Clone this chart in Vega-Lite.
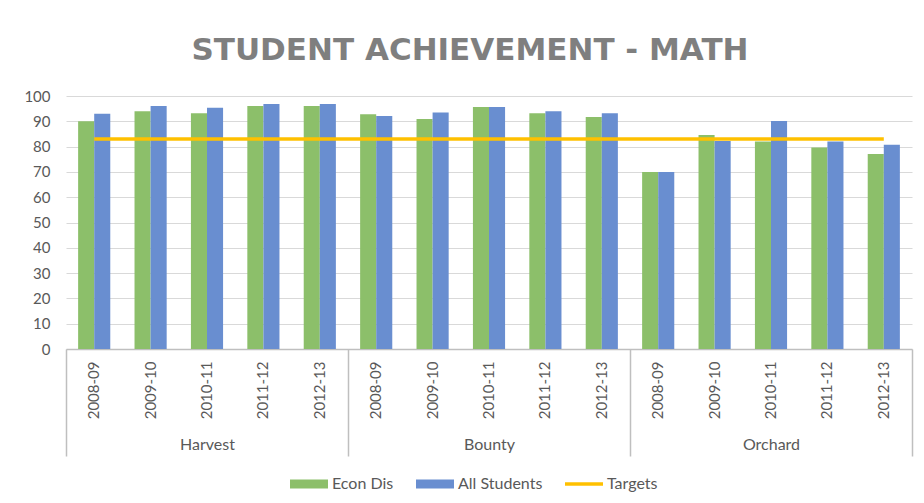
{
  "$schema": "https://vega.github.io/schema/vega-lite/v6.json",
  "width": 846,
  "height": 253,
  "autosize": "none",
  "padding": {"left": 66, "top": 96, "right": 12, "bottom": 154},
  "background": "white",
  "config": {"view": {"stroke": null}, "font": "Lato"},
  "title": {
    "text": "STUDENT ACHIEVEMENT - MATH",
    "font": "DejaVu Sans",
    "fontSize": 31,
    "fontWeight": "bold",
    "color": "#7f7f7f",
    "anchor": "middle",
    "offset": 22,
    "dx": -19
  },
  "data": {
    "values": [
      {"school": "Harvest", "cat": "Harvest|2008-09", "series": "Econ Dis", "value": 90},
      {"school": "Harvest", "cat": "Harvest|2008-09", "series": "All Students", "value": 93},
      {"school": "Harvest", "cat": "Harvest|2008-09", "series": "Targets", "value": 83},
      {"school": "Harvest", "cat": "Harvest|2009-10", "series": "Econ Dis", "value": 94},
      {"school": "Harvest", "cat": "Harvest|2009-10", "series": "All Students", "value": 96},
      {"school": "Harvest", "cat": "Harvest|2009-10", "series": "Targets", "value": 83},
      {"school": "Harvest", "cat": "Harvest|2010-11", "series": "Econ Dis", "value": 93.2},
      {"school": "Harvest", "cat": "Harvest|2010-11", "series": "All Students", "value": 95.4},
      {"school": "Harvest", "cat": "Harvest|2010-11", "series": "Targets", "value": 83},
      {"school": "Harvest", "cat": "Harvest|2011-12", "series": "Econ Dis", "value": 96},
      {"school": "Harvest", "cat": "Harvest|2011-12", "series": "All Students", "value": 96.8},
      {"school": "Harvest", "cat": "Harvest|2011-12", "series": "Targets", "value": 83},
      {"school": "Harvest", "cat": "Harvest|2012-13", "series": "Econ Dis", "value": 96},
      {"school": "Harvest", "cat": "Harvest|2012-13", "series": "All Students", "value": 96.8},
      {"school": "Harvest", "cat": "Harvest|2012-13", "series": "Targets", "value": 83},
      {"school": "Bounty", "cat": "Bounty|2008-09", "series": "Econ Dis", "value": 92.8},
      {"school": "Bounty", "cat": "Bounty|2008-09", "series": "All Students", "value": 92.1},
      {"school": "Bounty", "cat": "Bounty|2008-09", "series": "Targets", "value": 83},
      {"school": "Bounty", "cat": "Bounty|2009-10", "series": "Econ Dis", "value": 90.9},
      {"school": "Bounty", "cat": "Bounty|2009-10", "series": "All Students", "value": 93.5},
      {"school": "Bounty", "cat": "Bounty|2009-10", "series": "Targets", "value": 83},
      {"school": "Bounty", "cat": "Bounty|2010-11", "series": "Econ Dis", "value": 95.7},
      {"school": "Bounty", "cat": "Bounty|2010-11", "series": "All Students", "value": 95.7},
      {"school": "Bounty", "cat": "Bounty|2010-11", "series": "Targets", "value": 83},
      {"school": "Bounty", "cat": "Bounty|2011-12", "series": "Econ Dis", "value": 93.2},
      {"school": "Bounty", "cat": "Bounty|2011-12", "series": "All Students", "value": 94},
      {"school": "Bounty", "cat": "Bounty|2011-12", "series": "Targets", "value": 83},
      {"school": "Bounty", "cat": "Bounty|2012-13", "series": "Econ Dis", "value": 91.7},
      {"school": "Bounty", "cat": "Bounty|2012-13", "series": "All Students", "value": 93.2},
      {"school": "Bounty", "cat": "Bounty|2012-13", "series": "Targets", "value": 83},
      {"school": "Orchard", "cat": "Orchard|2008-09", "series": "Econ Dis", "value": 70},
      {"school": "Orchard", "cat": "Orchard|2008-09", "series": "All Students", "value": 70},
      {"school": "Orchard", "cat": "Orchard|2008-09", "series": "Targets", "value": 83},
      {"school": "Orchard", "cat": "Orchard|2009-10", "series": "Econ Dis", "value": 84.6},
      {"school": "Orchard", "cat": "Orchard|2009-10", "series": "All Students", "value": 82.2},
      {"school": "Orchard", "cat": "Orchard|2009-10", "series": "Targets", "value": 83},
      {"school": "Orchard", "cat": "Orchard|2010-11", "series": "Econ Dis", "value": 82},
      {"school": "Orchard", "cat": "Orchard|2010-11", "series": "All Students", "value": 90.1},
      {"school": "Orchard", "cat": "Orchard|2010-11", "series": "Targets", "value": 83},
      {"school": "Orchard", "cat": "Orchard|2011-12", "series": "Econ Dis", "value": 79.6},
      {"school": "Orchard", "cat": "Orchard|2011-12", "series": "All Students", "value": 82},
      {"school": "Orchard", "cat": "Orchard|2011-12", "series": "Targets", "value": 83},
      {"school": "Orchard", "cat": "Orchard|2012-13", "series": "Econ Dis", "value": 77.1},
      {"school": "Orchard", "cat": "Orchard|2012-13", "series": "All Students", "value": 80.7},
      {"school": "Orchard", "cat": "Orchard|2012-13", "series": "Targets", "value": 83}
    ]
  },
  "layer": [
    {
      "layer": [
        {
          "transform": [{"filter": "datum.series !== 'Targets'"}],
          "mark": {"type": "bar"},
          "encoding": {
            "x": {
              "field": "cat",
              "type": "nominal",
              "scale": {
                "domain": ["Harvest|2008-09", "Harvest|2009-10", "Harvest|2010-11", "Harvest|2011-12", "Harvest|2012-13",
                           "Bounty|2008-09", "Bounty|2009-10", "Bounty|2010-11", "Bounty|2011-12", "Bounty|2012-13",
                           "Orchard|2008-09", "Orchard|2009-10", "Orchard|2010-11", "Orchard|2011-12", "Orchard|2012-13"],
                "paddingInner": 0.43,
                "paddingOuter": 0.215
              },
              "axis": {
                "title": null,
                "orient": "bottom",
                "labelAngle": -90,
                "labelAlign": "right",
                "labelBaseline": "middle",
                "labelExpr": "split(datum.value, '|')[1]",
                "ticks": false,
                "domain": true,
                "domainColor": "#bfbfbf",
                "domainWidth": 1.5,
                "labelPadding": 12,
                "labelFont": "Lato",
                "labelFontSize": 15,
                "labelColor": "#595959",
                "grid": false
              }
            },
            "xOffset": {
              "field": "series",
              "type": "nominal",
              "sort": ["Econ Dis", "All Students"],
              "scale": {"paddingInner": 0, "paddingOuter": 0}
            },
            "y": {
              "field": "value",
              "type": "quantitative",
              "scale": {"domain": [0, 100]},
              "axis": {
                "title": null,
                "values": [0, 10, 20, 30, 40, 50, 60, 70, 80, 90, 100],
                "labelOverlap": false,
                "domain": false,
                "ticks": false,
                "labelPadding": 16,
                "labelFont": "Lato",
                "labelFontSize": 15,
                "labelColor": "#595959",
                "gridColor": "#d9d9d9",
                "gridWidth": 1
              }
            },
            "color": {
              "field": "series",
              "type": "nominal",
              "scale": {
                "domain": ["Econ Dis", "All Students", "Targets"],
                "range": ["#8cbf6a", "#698ed0", "#ffc000"]
              },
              "legend": {
                "title": null,
                "orient": "none",
                "legendX": 224,
                "legendY": 369,
                "direction": "horizontal",
                "padding": 0,
                "symbolType": "M-1,-0.24H1V0.24H-1Z",
                "symbolSize": 1444,
                "symbolStrokeWidth": 0,
                "labelFont": "Lato",
                "labelFontSize": 16,
                "labelColor": "#595959",
                "labelOffset": 4,
                "columnPadding": 22,
                "encode": {
                  "symbols": {
                    "update": {
                      "shape": {"signal": "datum.value === 'Targets' ? 'M-1,-0.09H1V0.09H-1Z' : 'M-1,-0.24H1V0.24H-1Z'"},
                      "fill": {"scale": "color", "field": "value"},
                      "strokeWidth": {"value": 0},
                      "opacity": {"value": 1}
                    }
                  }
                }
              }
            }
          }
        },
        {
          "transform": [{"filter": "datum.series === 'Targets'"}],
          "mark": {"type": "line", "strokeWidth": 3.5},
          "encoding": {
            "x": {"field": "cat", "type": "nominal"},
            "y": {
              "field": "value",
              "type": "quantitative",
              "axis": {
                "title": null,
                "values": [0, 10, 20, 30, 40, 50, 60, 70, 80, 90, 100],
                "labelOverlap": false,
                "domain": false,
                "ticks": false,
                "labelPadding": 16,
                "labelFont": "Lato",
                "labelFontSize": 15,
                "labelColor": "#595959",
                "gridColor": "#d9d9d9",
                "gridWidth": 1
              }
            },
            "color": {"field": "series", "type": "nominal"}
          }
        }
      ]
    },
    {
      "transform": [{"filter": "datum.series === 'Econ Dis'"}],
      "mark": {"type": "rule", "opacity": 0},
      "encoding": {
        "x": {
          "field": "school",
          "type": "nominal",
          "sort": ["Harvest", "Bounty", "Orchard"],
          "scale": {"paddingInner": 0, "paddingOuter": 0},
          "axis": {
            "title": null,
            "orient": "bottom",
            "labelAngle": 0,
            "domain": false,
            "ticks": true,
            "tickBand": "extent",
            "tickSize": 107,
            "tickColor": "#bfbfbf",
            "tickWidth": 1.5,
            "labelPadding": -20,
            "labelBaseline": "top",
            "labelFont": "Lato",
            "labelFontSize": 16,
            "labelColor": "#595959",
            "grid": false
          }
        }
      }
    }
  ],
  "resolve": {"scale": {"x": "independent"}, "axis": {"x": "independent"}}
}
